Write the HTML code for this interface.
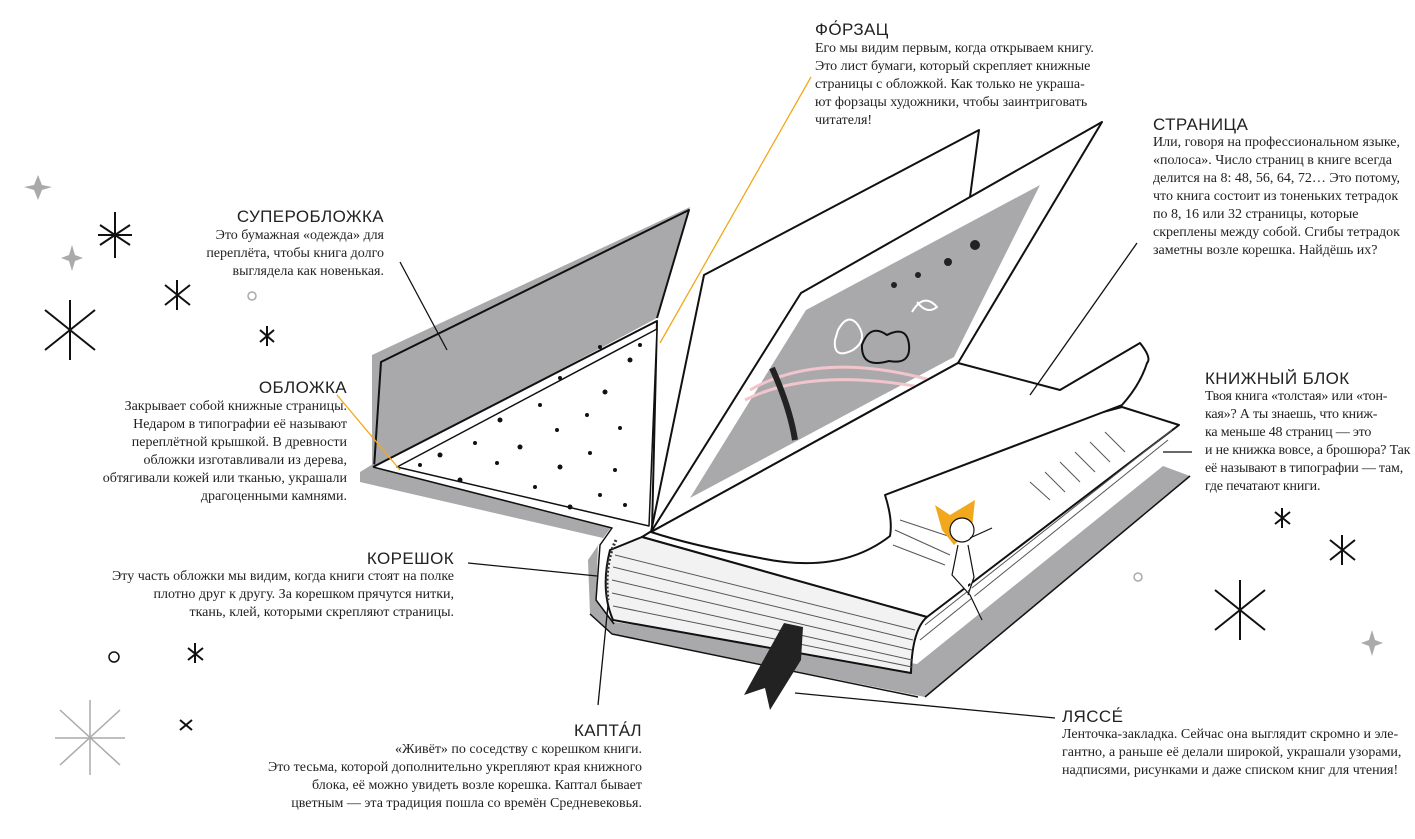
<!DOCTYPE html>
<html><head><meta charset="utf-8"><style>
body{margin:0;background:#fff;width:1415px;height:839px;overflow:hidden;position:relative}
.t{position:absolute;font-family:"Liberation Sans",sans-serif;font-size:17px;letter-spacing:.4px;color:#222;white-space:nowrap}
.b{position:absolute;font-family:"Liberation Serif",serif;font-size:14px;line-height:18px;color:#222;white-space:nowrap}
.r{text-align:right}
svg{position:absolute;left:0;top:0}
</style></head><body>
<svg width="1415" height="839" viewBox="0 0 1415 839">
<g stroke="#111" stroke-width="2" stroke-linejoin="round" fill="none">
<polygon points="372,355 690,207 657,318 372,470" fill="#a9a9ab" stroke="none"/>
<polyline points="374,468 381,362 689,210 657,318"/>
<polygon points="360,472 373,464 612,526 598,545 596,600 614,622 917,664 1163,466 1190,476 925,697 612,634 590,614 588,560 603,538 360,482" fill="#a9a9ab" stroke="none"/>
<polygon points="373,467 657,321 690,336 652,530 612,528" fill="#fff" stroke="none"/>
<polyline points="373,467 657,321 652,530"/>
<polygon points="397,467 657,329 649,526" fill="#fff" stroke-width="1.5"/>
<polyline points="373,467 612,528 600,545 596,600 614,624" stroke-width="1.5"/>
<polyline points="590,614 612,634 918,697" stroke-width="1.5"/>
<polyline points="925,697 1190,476" stroke-width="1.5"/>
<g fill="#111" stroke="none">
<circle cx="600" cy="347" r="2"/><circle cx="630" cy="360" r="2.5"/><circle cx="560" cy="378" r="2"/><circle cx="605" cy="392" r="2.5"/><circle cx="540" cy="405" r="2"/><circle cx="587" cy="415" r="2"/><circle cx="500" cy="420" r="2.5"/><circle cx="557" cy="430" r="2"/><circle cx="620" cy="428" r="2"/><circle cx="475" cy="443" r="2"/><circle cx="520" cy="447" r="2.5"/><circle cx="590" cy="453" r="2"/><circle cx="440" cy="455" r="2.5"/><circle cx="497" cy="463" r="2"/><circle cx="560" cy="467" r="2.5"/><circle cx="615" cy="470" r="2"/><circle cx="420" cy="465" r="2"/><circle cx="535" cy="487" r="2"/><circle cx="460" cy="480" r="2.5"/><circle cx="600" cy="495" r="2"/><circle cx="570" cy="507" r="2.5"/><circle cx="640" cy="345" r="2"/><circle cx="625" cy="505" r="2"/></g>
<polygon points="651,532 704,275 979,130 970,197" fill="#fff"/>
<polygon points="651,532 801,293 1102,122 958,363" fill="#fff"/>
<polygon points="690,498 806,310 1040,185 954,357" fill="#a9a9ab" stroke="none"/>
<path d="M750,390 q70,-40 180,-10 M745,400 q70,-35 190,-10" stroke="#f2c4cc" stroke-width="3"/>
<path d="M772,368 q18,40 23,72" stroke="#222" stroke-width="6"/>
<path d="M838,330 q10,-18 20,-5 q10,15 -5,25 q-20,10 -18,-10z" stroke="#fff" stroke-width="2"/>
<path d="M862,345 q8,-22 25,-10 q20,-10 22,10 q2,20 -20,16 q-28,8 -27,-16z" stroke="#111" stroke-width="2"/>
<path d="M912,312 q12,-20 25,-5 q-10,8 -20,-5" stroke="#fff" stroke-width="2"/>
<circle cx="975" cy="245" r="5" fill="#222" stroke="none"/><circle cx="948" cy="262" r="4" fill="#222" stroke="none"/><circle cx="918" cy="275" r="3" fill="#222" stroke="none"/><circle cx="894" cy="285" r="3" fill="#222" stroke="none"/>
<polygon points="650,532 1122,407 1179,425 927,617 642,537" fill="#fff"/>
<path d="M642,537 L927,617 Q912,630 911,673 L613,620 Q600,590 610,550 Z" fill="#f2f2f2"/>
<g stroke-width="1" stroke="#555">
<line x1="615" y1="555" x2="915" y2="630"/><line x1="613" y1="567" x2="913" y2="640"/><line x1="612" y1="580" x2="912" y2="650"/><line x1="612" y1="593" x2="912" y2="660"/><line x1="613" y1="606" x2="912" y2="667"/>
<line x1="925" y1="625" x2="1172" y2="430"/><line x1="920" y1="640" x2="1168" y2="440"/>
<line x1="900" y1="520" x2="960" y2="540"/><line x1="895" y1="530" x2="950" y2="555"/><line x1="893" y1="545" x2="945" y2="565"/>
<line x1="1105" y1="432" x2="1125" y2="452"/><line x1="1090" y1="442" x2="1110" y2="462"/><line x1="1075" y1="452" x2="1095" y2="472"/><line x1="1060" y1="462" x2="1080" y2="482"/><line x1="1045" y1="472" x2="1065" y2="492"/><line x1="1030" y1="482" x2="1050" y2="500"/>
</g>
<path d="M616,540 q-12,25 -8,60" stroke="#333" stroke-width="3" stroke-dasharray="2 2"/>
<path d="M651,532 L958,363 L1060,390 L1140,343 Q1152,358 1147,363 Q1140,385 1122,405 L885,495 Q893,520 890,536 Q840,575 760,558 Q690,545 651,532Z" fill="#fff"/>
<polygon points="784,623 803,627 801,660 770,710 765,688 744,695" fill="#222" stroke="none"/>
<path d="M935,505 l15,10 l25,-15 l-3,28 l-18,17 l-12,-15z" fill="#f2a81d" stroke="none"/>
<circle cx="962" cy="530" r="12" fill="#fff" stroke-width="1.2"/>
<path d="M970,538 l22,-10" stroke-width="1.2"/>
<path d="M958,545 l-6,30 l18,20 l12,25 M968,545 l6,32 l-6,18" stroke-width="1.2" fill="#fff"/>
</g>
<g stroke-width="1.3" fill="none">
<line x1="811" y1="77" x2="660" y2="343" stroke="#f2a81d"/>
<line x1="337" y1="395" x2="400" y2="470" stroke="#f2a81d"/>
<line x1="400" y1="262" x2="447" y2="350" stroke="#111"/>
<line x1="1137" y1="243" x2="1030" y2="395" stroke="#111"/>
<line x1="1192" y1="452" x2="1163" y2="452" stroke="#111"/>
<line x1="468" y1="563" x2="597" y2="576" stroke="#111"/>
<line x1="608" y1="605" x2="598" y2="705" stroke="#111"/>
<line x1="795" y1="693" x2="1055" y2="718" stroke="#111"/>
</g>
<g stroke="#111" stroke-width="2">
<path d="M100,225 l30,20 M130,225 l-30,20 M115,212 v46 M98,235 h34"/>
<path d="M45,310 l50,40 M95,310 l-50,40 M70,300 v60"/>
<path d="M165,285 l25,20 M190,285 l-25,20 M177,280 v30"/>
<path d="M1215,590 l50,40 M1265,590 l-50,40 M1240,580 v60"/>
<path d="M1330,540 l25,20 M1355,540 l-25,20 M1342,535 v30"/>
<path d="M1275,512 l15,12 M1290,512 l-15,12 M1282,508 v20"/>
<path d="M188,648 l15,12 M203,648 l-15,12 M195,643 v20"/>
<path d="M180,720 l12,10 M192,720 l-12,10"/>
<path d="M260,330 l14,12 M274,330 l-14,12 M267,326 v20"/>
</g>
<g stroke="#aaa" stroke-width="1.5"><path d="M60,710 l60,55 M120,710 l-60,55 M90,700 v75 M55,738 h70"/></g>
<path d="M38,175 l4,10 10,2 -10,3 -4,10 -4,-10 -10,-3 10,-2z" fill="#aaa"/>
<path d="M72,245 l3,10 8,3 -8,3 -3,10 -3,-10 -8,-3 8,-3z" fill="#aaa"/>
<path d="M1372,630 l3,10 8,3 -8,3 -3,10 -3,-10 -8,-3 8,-3z" fill="#aaa"/>
<circle cx="252" cy="296" r="4" fill="none" stroke="#aaa" stroke-width="1.5"/>
<circle cx="114" cy="657" r="5" fill="none" stroke="#111" stroke-width="1.5"/>
<circle cx="1138" cy="577" r="4" fill="none" stroke="#aaa" stroke-width="1.5"/>
</svg>

<div class="t" style="left:815px;top:20px">ФО́РЗАЦ</div>
<div class="b" style="left:815px;top:40px">Его мы видим первым, когда открываем книгу.<br>Это лист бумаги, который скрепляет книжные<br>страницы с обложкой. Как только не украша-<br>ют форзацы художники, чтобы заинтриговать<br>читателя!</div>

<div class="t" style="left:1153px;top:115px">СТРАНИЦА</div>
<div class="b" style="left:1153px;top:134px">Или, говоря на профессиональном языке,<br>«полоса». Число страниц в книге всегда<br>делится на 8: 48, 56, 64, 72… Это потому,<br>что книга состоит из тоненьких тетрадок<br>по 8, 16 или 32 страницы, которые<br>скреплены между собой. Сгибы тетрадок<br>заметны возле корешка. Найдёшь их?</div>

<div class="t r" style="right:1031px;top:207px">СУПЕРОБЛОЖКА</div>
<div class="b r" style="right:1031px;top:227px">Это бумажная «одежда» для<br>переплёта, чтобы книга долго<br>выглядела как новенькая.</div>

<div class="t r" style="right:1068px;top:378px">ОБЛОЖКА</div>
<div class="b r" style="right:1068px;top:398px">Закрывает собой книжные страницы.<br>Недаром в типографии её называют<br>переплётной крышкой. В древности<br>обложки изготавливали из дерева,<br>обтягивали кожей или тканью, украшали<br>драгоценными камнями.</div>

<div class="t" style="left:1205px;top:369px">КНИЖНЫЙ БЛОК</div>
<div class="b" style="left:1205px;top:388px;letter-spacing:-0.2px">Твоя книга «толстая» или «тон-<br>кая»? А ты знаешь, что книж-<br>ка меньше 48 страниц — это<br>и не книжка вовсе, а брошюра? Так<br>её называют в типографии — там,<br>где печатают книги.</div>

<div class="t r" style="right:961px;top:549px">КОРЕШОК</div>
<div class="b r" style="right:961px;top:568px">Эту часть обложки мы видим, когда книги стоят на полке<br>плотно друг к другу. За корешком прячутся нитки,<br>ткань, клей, которыми скрепляют страницы.</div>

<div class="t r" style="right:773px;top:721px">КАПТА́Л</div>
<div class="b r" style="right:773px;top:741px">«Живёт» по соседству с корешком книги.<br>Это тесьма, которой дополнительно укрепляют края книжного<br>блока, её можно увидеть возле корешка. Каптал бывает<br>цветным — эта традиция пошла со времён Средневековья.</div>

<div class="t" style="left:1062px;top:707px">ЛЯССЕ́</div>
<div class="b" style="left:1062px;top:726px">Ленточка-закладка. Сейчас она выглядит скромно и эле-<br>гантно, а раньше её делали широкой, украшали узорами,<br>надписями, рисунками и даже списком книг для чтения!</div>
</body></html>
